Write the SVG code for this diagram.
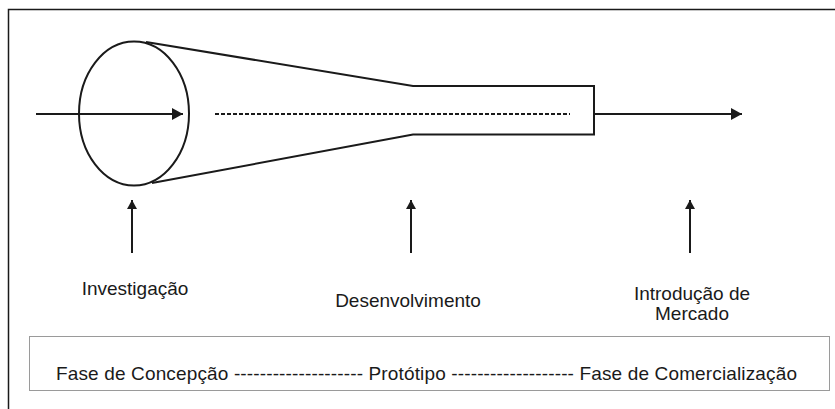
<svg xmlns="http://www.w3.org/2000/svg" width="835" height="409" viewBox="0 0 835 409">
<defs>
<style>
.ln{stroke:#1a1a1a;stroke-width:2;fill:none}
.lbl{font-family:"Liberation Sans",Arial,sans-serif;font-size:19px;fill:#1a1a1a}
</style>
<marker id="ah" markerUnits="userSpaceOnUse" markerWidth="12" markerHeight="12" refX="11" refY="6" orient="auto">
<path d="M0,0 L11,6 L0,12 Z" fill="#1a1a1a"/>
</marker>
<marker id="ahs" markerUnits="userSpaceOnUse" markerWidth="10" markerHeight="10" refX="9" refY="5" orient="auto">
<path d="M0,0 L9,5 L0,10 Z" fill="#1a1a1a"/>
</marker>
</defs>
<rect width="835" height="409" fill="#fff"/>
<rect x="8.5" y="9.5" width="840" height="420" fill="none" stroke="#1a1a1a" stroke-width="1.5"/>
<g id="funnel">
<ellipse cx="134" cy="113.5" rx="55" ry="72" class="ln"/>
<path d="M146,42 L413,86 L594,86 L594,134.5 L413,134.5 L152,183" class="ln"/>
</g>
<g id="connectors">
<line x1="36" y1="114" x2="183" y2="114" class="ln" marker-end="url(#ah)"/>
<line x1="215" y1="114" x2="570" y2="114" class="ln" stroke-dasharray="4 2"/>
<line x1="594" y1="114" x2="742" y2="114" class="ln" marker-end="url(#ah)"/>
<line x1="132" y1="253" x2="132" y2="200" class="ln" marker-end="url(#ahs)"/>
<line x1="411" y1="253" x2="411" y2="200" class="ln" marker-end="url(#ahs)"/>
<line x1="690" y1="253" x2="690" y2="200" class="ln" marker-end="url(#ahs)"/>
</g>
<g id="investigacao">
<text x="135" y="295" text-anchor="middle" class="lbl">Investigação</text>
</g>
<g id="desenvolvimento">
<text x="408" y="307" text-anchor="middle" class="lbl">Desenvolvimento</text>
</g>
<g id="introducao">
<text x="692" y="300" text-anchor="middle" class="lbl">Introdução de</text>
<text x="692" y="320" text-anchor="middle" class="lbl">Mercado</text>
</g>
<g id="fases">
<rect x="29.5" y="336.5" width="800" height="54" fill="#fff" stroke="#9a9a9a" stroke-width="1"/>
<text x="56" y="380" class="lbl" textLength="741" lengthAdjust="spacing">Fase de Concepção -------------------- Protótipo ------------------- Fase de Comercialização</text>
</g>
</svg>
